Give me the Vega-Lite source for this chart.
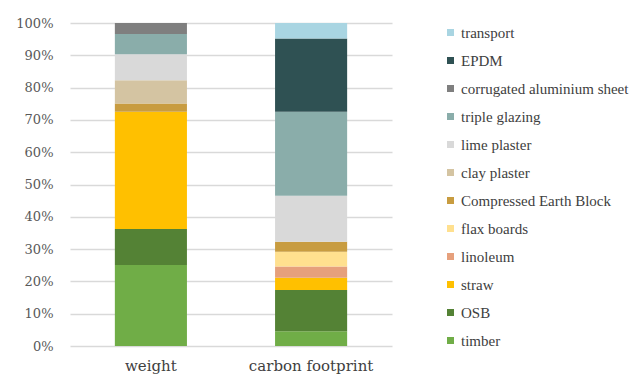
{
  "$schema": "https://vega.github.io/schema/vega-lite/v6.json",
  "width": 322,
  "height": 323,
  "autosize": "none",
  "padding": {"left": 70, "top": 23, "right": 240, "bottom": 30},
  "background": "white",
  "config": {
    "view": {"stroke": null},
    "font": "DejaVu Serif"
  },
  "data": {
    "values": [
      {"measure": "weight", "material": "timber", "rank": 1, "share": 25.1},
      {"measure": "weight", "material": "OSB", "rank": 2, "share": 11.1},
      {"measure": "weight", "material": "straw", "rank": 3, "share": 36.3},
      {"measure": "weight", "material": "Compressed Earth Block", "rank": 6, "share": 2.6},
      {"measure": "weight", "material": "clay plaster", "rank": 7, "share": 7.2},
      {"measure": "weight", "material": "lime plaster", "rank": 8, "share": 8.0},
      {"measure": "weight", "material": "triple glazing", "rank": 9, "share": 6.3},
      {"measure": "weight", "material": "corrugated aluminium sheet", "rank": 10, "share": 3.4},
      {"measure": "carbon footprint", "material": "timber", "rank": 1, "share": 4.6},
      {"measure": "carbon footprint", "material": "OSB", "rank": 2, "share": 12.7},
      {"measure": "carbon footprint", "material": "straw", "rank": 3, "share": 3.8},
      {"measure": "carbon footprint", "material": "linoleum", "rank": 4, "share": 3.5},
      {"measure": "carbon footprint", "material": "flax boards", "rank": 5, "share": 4.6},
      {"measure": "carbon footprint", "material": "Compressed Earth Block", "rank": 6, "share": 3.1},
      {"measure": "carbon footprint", "material": "lime plaster", "rank": 8, "share": 14.2},
      {"measure": "carbon footprint", "material": "triple glazing", "rank": 9, "share": 26.0},
      {"measure": "carbon footprint", "material": "EPDM", "rank": 11, "share": 22.7},
      {"measure": "carbon footprint", "material": "transport", "rank": 12, "share": 4.8}
    ]
  },
  "mark": {"type": "bar"},
  "encoding": {
    "x": {
      "field": "measure",
      "type": "nominal",
      "sort": ["weight", "carbon footprint"],
      "scale": {"paddingInner": 0.55, "paddingOuter": 0.28},
      "axis": {
        "title": null,
        "labelAngle": 0,
        "ticks": false,
        "domain": false,
        "labelFontSize": 15,
        "labelColor": "#404040",
        "labelPadding": 12
      }
    },
    "y": {
      "field": "share",
      "type": "quantitative",
      "stack": "zero",
      "scale": {"domain": [0, 100]},
      "axis": {
        "title": null,
        "values": [0, 10, 20, 30, 40, 50, 60, 70, 80, 90, 100],
        "labelExpr": "datum.value + '%'",
        "ticks": false,
        "domain": false,
        "gridColor": "#d9d9d9",
        "gridWidth": 1.5,
        "labelFontSize": 13,
        "labelColor": "#595959",
        "labelPadding": 17
      }
    },
    "order": {"field": "rank", "type": "quantitative", "sort": "ascending"},
    "color": {
      "field": "material",
      "type": "nominal",
      "scale": {
        "domain": ["transport", "EPDM", "corrugated aluminium sheet", "triple glazing", "lime plaster", "clay plaster", "Compressed Earth Block", "flax boards", "linoleum", "straw", "OSB", "timber"],
        "range": ["#a9d5e2", "#2f5153", "#7f7f7f", "#8aadaa", "#d9d9d9", "#d4c4a2", "#c89c40", "#ffe08f", "#e6a07c", "#ffc000", "#548235", "#70ad47"]
      },
      "legend": {
        "title": null,
        "orient": "none",
        "legendX": 373,
        "legendY": 2,
        "symbolType": "square",
        "symbolSize": 49,
        "symbolStrokeWidth": 0,
        "labelFont": "Liberation Serif",
        "labelFontSize": 15,
        "labelColor": "#404040",
        "labelOffset": 3,
        "rowPadding": 12,
        "padding": 0,
        "labelLimit": 300
      }
    }
  }
}
